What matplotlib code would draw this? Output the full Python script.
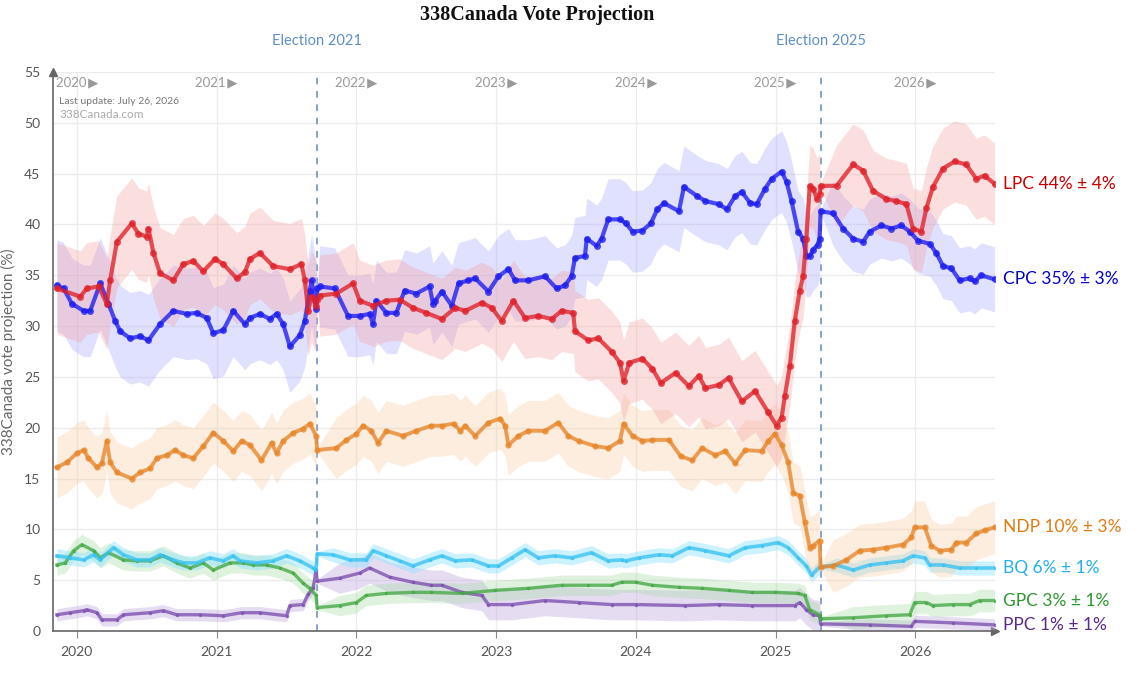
import matplotlib
matplotlib.use("Agg")
import matplotlib.pyplot as plt
import matplotlib.transforms as mtransforms
import numpy as np

# ---------------- data (x in decimal years, values in %) ----------------
ELECTIONS = [2021.719, 2025.322]
ELECTION_LABELS = ["Election 2021", "Election 2025"]
YEARS = [2020, 2021, 2022, 2023, 2024, 2025, 2026]

lpc_t = [2019.857, 2020.024, 2020.071, 2020.155, 2020.214, 2020.238, 2020.286, 2020.393, 2020.440,
         2020.500, 2020.512, 2020.548, 2020.595, 2020.690, 2020.762, 2020.833, 2020.905, 2020.988,
         2021.048, 2021.143, 2021.202, 2021.238, 2021.310, 2021.405, 2021.524, 2021.607, 2021.631,
         2021.655, 2021.679, 2021.712, 2021.719, 2021.738, 2021.857, 2021.976, 2022.024, 2022.119,
         2022.214, 2022.310, 2022.405, 2022.500, 2022.612, 2022.707, 2022.779, 2022.898, 2022.969,
         2023.040, 2023.124, 2023.207, 2023.302, 2023.398, 2023.469, 2023.552, 2023.564, 2023.660,
         2023.731, 2023.826, 2023.886, 2023.912, 2023.953, 2024.047, 2024.118, 2024.178, 2024.284,
         2024.379, 2024.450, 2024.498, 2024.592, 2024.664, 2024.758, 2024.853, 2024.948, 2025.007,
         2025.043, 2025.066, 2025.102, 2025.137, 2025.173, 2025.197, 2025.220, 2025.244, 2025.270,
         2025.295, 2025.315, 2025.322, 2025.436, 2025.555, 2025.626, 2025.698, 2025.793, 2025.864,
         2025.936, 2025.983, 2026.043, 2026.079, 2026.126, 2026.198, 2026.281, 2026.364, 2026.436,
         2026.495, 2026.567]
lpc_v = [33.7, 32.9, 33.7, 33.9, 32.2, 34.5, 38.3, 40.1, 39.1,
         38.8, 39.6, 37.2, 35.2, 34.5, 36.1, 36.4, 35.4, 36.6,
         36.1, 34.7, 35.3, 36.6, 37.2, 35.9, 35.6, 36.1, 34.5,
         31.5, 32.9, 32.0, 32.6, 33.0, 33.2, 34.2, 32.5, 32.0,
         32.5, 32.6, 31.8, 31.3, 30.7, 31.8, 31.5, 32.3, 31.8,
         30.5, 32.5, 30.8, 31.0, 30.7, 31.5, 31.3, 29.5, 28.6,
         28.8, 27.5, 26.4, 24.6, 26.4, 26.8, 25.8, 24.4, 25.4,
         24.1, 25.1, 23.9, 24.2, 24.9, 22.6, 23.6, 21.5, 20.2,
         21.0, 23.1, 26.1, 30.5, 33.5, 34.9, 38.6, 43.8, 43.5,
         42.5, 43.0, 43.8, 43.8, 45.9, 45.3, 43.3, 42.5, 42.3,
         42.0, 39.6, 39.3, 41.6, 43.7, 45.5, 46.2, 45.9, 44.5,
         44.8, 44.0]

cpc_t = [2019.857, 2019.905, 2019.964, 2020.048, 2020.095, 2020.167, 2020.226, 2020.274, 2020.310,
         2020.381, 2020.452, 2020.512, 2020.595, 2020.690, 2020.786, 2020.857, 2020.929, 2020.976,
         2021.048, 2021.119, 2021.202, 2021.238, 2021.310, 2021.381, 2021.429, 2021.476, 2021.524,
         2021.595, 2021.631, 2021.667, 2021.679, 2021.712, 2021.719, 2021.738, 2021.845, 2021.940,
         2022.024, 2022.095, 2022.119, 2022.143, 2022.214, 2022.286, 2022.345, 2022.429, 2022.524,
         2022.548, 2022.564, 2022.612, 2022.683, 2022.731, 2022.802, 2022.850, 2022.945, 2023.017,
         2023.088, 2023.136, 2023.231, 2023.350, 2023.433, 2023.493, 2023.540, 2023.564, 2023.636,
         2023.648, 2023.719, 2023.755, 2023.802, 2023.886, 2023.929, 2023.976, 2024.047, 2024.107,
         2024.154, 2024.201, 2024.308, 2024.344, 2024.438, 2024.498, 2024.592, 2024.652, 2024.711,
         2024.758, 2024.818, 2024.865, 2024.924, 2024.972, 2025.043, 2025.078, 2025.114, 2025.161,
         2025.197, 2025.220, 2025.245, 2025.268, 2025.300, 2025.315, 2025.322, 2025.412, 2025.483,
         2025.555, 2025.626, 2025.674, 2025.757, 2025.829, 2025.900, 2025.960, 2026.019, 2026.102,
         2026.150, 2026.198, 2026.257, 2026.317, 2026.388, 2026.424, 2026.471, 2026.567]
cpc_v = [34.0, 33.7, 32.2, 31.5, 31.5, 34.2, 32.2, 30.5, 29.5,
         28.8, 29.0, 28.6, 30.2, 31.5, 31.2, 31.3, 30.8, 29.3,
         29.6, 31.5, 30.2, 30.8, 31.2, 30.7, 31.2, 30.2, 28.0,
         29.1, 30.5, 33.5, 34.5, 31.7, 33.7, 33.9, 33.7, 31.0,
         31.0, 31.2, 30.2, 32.5, 31.3, 31.3, 33.5, 33.2, 33.9,
         32.2, 32.5, 33.4, 32.0, 34.2, 34.5, 34.7, 33.4, 34.9,
         35.6, 34.5, 34.5, 34.9, 33.7, 34.0, 34.9, 36.7, 36.9,
         38.6, 37.9, 38.6, 40.5, 40.5, 40.1, 39.3, 39.4, 40.1,
         41.5, 42.1, 41.3, 43.7, 42.8, 42.3, 42.0, 41.5, 42.8,
         43.2, 42.1, 42.0, 43.5, 44.5, 45.2, 44.2, 42.3, 39.3,
         38.6, 36.9, 36.9, 37.5, 38.0, 38.6, 41.3, 41.1, 39.6,
         38.6, 38.3, 39.3, 39.9, 39.6, 39.9, 39.3, 38.4, 38.1,
         37.2, 35.9, 35.7, 34.5, 34.7, 34.4, 35.0, 34.6]

ndp_t = [2019.857, 2019.929, 2020.000, 2020.048, 2020.083, 2020.143, 2020.179, 2020.214, 2020.238,
         2020.286, 2020.393, 2020.452, 2020.524, 2020.571, 2020.643, 2020.702, 2020.762, 2020.833,
         2020.905, 2020.976, 2021.048, 2021.119, 2021.179, 2021.238, 2021.321, 2021.393, 2021.429,
         2021.476, 2021.548, 2021.619, 2021.667, 2021.712, 2021.719, 2021.857, 2021.929, 2022.000,
         2022.048, 2022.107, 2022.155, 2022.214, 2022.333, 2022.429, 2022.536, 2022.612, 2022.695,
         2022.743, 2022.779, 2022.850, 2022.945, 2023.029, 2023.064, 2023.088, 2023.160, 2023.231,
         2023.350, 2023.445, 2023.517, 2023.590, 2023.707, 2023.802, 2023.886, 2023.912, 2023.976,
         2024.047, 2024.118, 2024.237, 2024.320, 2024.403, 2024.474, 2024.569, 2024.640, 2024.711,
         2024.782, 2024.900, 2024.948, 2024.995, 2025.043, 2025.090, 2025.126, 2025.173, 2025.209,
         2025.244, 2025.270, 2025.315, 2025.322, 2025.412, 2025.507, 2025.602, 2025.698, 2025.793,
         2025.912, 2025.971, 2025.995, 2026.067, 2026.114, 2026.174, 2026.257, 2026.293, 2026.364,
         2026.436, 2026.495, 2026.567]
ndp_v = [16.1, 16.6, 17.5, 17.8, 17.0, 16.1, 16.5, 18.7, 16.6,
         15.6, 15.0, 15.6, 16.0, 17.0, 17.3, 17.8, 17.3, 17.0,
         18.2, 19.5, 18.7, 17.7, 18.7, 18.3, 16.8, 18.5, 17.5,
         18.7, 19.5, 19.9, 20.4, 19.2, 17.8, 18.0, 18.8, 19.4,
         20.2, 19.7, 18.5, 19.7, 19.2, 19.7, 20.2, 20.2, 20.4,
         19.7, 20.2, 19.2, 20.5, 20.9, 20.2, 18.3, 19.2, 19.7,
         19.7, 20.5, 19.2, 18.7, 18.2, 18.0, 18.7, 20.4, 19.2,
         18.7, 18.8, 18.8, 17.2, 16.8, 18.0, 17.3, 17.7, 16.5,
         17.8, 17.7, 18.7, 19.4, 18.3, 16.6, 13.6, 13.3, 10.7,
         8.2, 8.4, 8.9, 6.3, 6.4, 7.0, 7.9, 8.0, 8.2,
         8.5, 9.2, 10.2, 10.2, 8.4, 7.9, 8.0, 8.7, 8.7,
         9.6, 9.9, 10.2]

bq_t = [2019.857, 2019.952, 2020.048, 2020.119, 2020.167, 2020.262, 2020.333, 2020.429, 2020.524,
        2020.595, 2020.690, 2020.762, 2020.857, 2020.952, 2021.048, 2021.119, 2021.167, 2021.286,
        2021.405, 2021.500, 2021.595, 2021.690, 2021.712, 2021.719, 2021.833, 2021.952, 2022.071,
        2022.119, 2022.214, 2022.310, 2022.405, 2022.524, 2022.612, 2022.707, 2022.826, 2022.945,
        2023.017, 2023.112, 2023.207, 2023.302, 2023.421, 2023.540, 2023.683, 2023.802, 2023.898,
        2023.929, 2024.024, 2024.166, 2024.261, 2024.379, 2024.498, 2024.664, 2024.782, 2024.900,
        2025.019, 2025.090, 2025.161, 2025.220, 2025.257, 2025.315, 2025.322, 2025.436, 2025.555,
        2025.674, 2025.793, 2025.912, 2025.983, 2026.067, 2026.102, 2026.198, 2026.317, 2026.436,
        2026.567]
bq_v = [7.4, 7.2, 7.0, 7.5, 7.0, 8.2, 7.5, 7.0, 7.0,
        7.5, 7.0, 6.7, 6.7, 7.2, 6.9, 7.4, 6.9, 6.7,
        6.9, 7.4, 6.9, 6.2, 6.0, 7.6, 7.5, 7.0, 7.0,
        7.9, 7.4, 6.9, 6.4, 7.0, 7.4, 6.9, 7.0, 6.4,
        6.4, 7.2, 8.0, 7.2, 7.4, 7.2, 7.7, 6.9, 7.0,
        6.9, 7.2, 7.5, 7.4, 8.2, 7.9, 7.4, 8.2, 8.4,
        8.7, 8.2, 7.2, 6.4, 5.5, 6.3, 6.3, 6.5, 6.0,
        6.5, 6.7, 6.9, 7.4, 7.2, 6.5, 6.5, 6.2, 6.2,
        6.2]

gpc_t = [2019.857, 2019.917, 2019.976, 2020.036, 2020.119, 2020.167, 2020.226, 2020.333, 2020.429,
         2020.524, 2020.619, 2020.714, 2020.810, 2020.905, 2020.976, 2021.095, 2021.190, 2021.262,
         2021.357, 2021.452, 2021.548, 2021.619, 2021.667, 2021.712, 2021.719, 2021.881, 2022.000,
         2022.071, 2022.214, 2022.405, 2022.536, 2022.755, 2022.993, 2023.231, 2023.469, 2023.660,
         2023.826, 2023.898, 2024.000, 2024.118, 2024.308, 2024.474, 2024.664, 2024.829, 2024.995,
         2025.161, 2025.209, 2025.244, 2025.315, 2025.322, 2025.555, 2025.793, 2025.960, 2025.995,
         2026.079, 2026.126, 2026.269, 2026.388, 2026.460, 2026.567]
gpc_v = [6.5, 6.7, 7.9, 8.5, 7.9, 7.2, 7.7, 7.0, 6.9,
         6.9, 7.4, 6.7, 6.2, 6.7, 6.0, 6.7, 6.7, 6.5,
         6.5, 6.2, 5.7, 4.7, 4.2, 3.5, 2.3, 2.5, 2.8,
         3.5, 3.7, 3.8, 3.8, 3.7, 4.0, 4.2, 4.5, 4.5,
         4.5, 4.8, 4.8, 4.5, 4.3, 4.2, 4.0, 3.8, 3.8,
         3.7, 3.5, 2.1, 1.6, 1.2, 1.3, 1.5, 1.6, 2.8,
         2.8, 2.5, 2.6, 2.6, 3.0, 3.0]

ppc_t = [2019.857, 2019.952, 2020.048, 2020.071, 2020.143, 2020.179, 2020.286, 2020.333, 2020.524,
         2020.619, 2020.714, 2020.881, 2021.048, 2021.179, 2021.310, 2021.500, 2021.524, 2021.619,
         2021.655, 2021.690, 2021.712, 2021.719, 2021.881, 2022.024, 2022.095, 2022.238, 2022.405,
         2022.536, 2022.612, 2022.755, 2022.898, 2022.945, 2023.112, 2023.350, 2023.590, 2023.826,
         2024.000, 2024.355, 2024.592, 2024.829, 2025.137, 2025.173, 2025.220, 2025.268, 2025.315,
         2025.322, 2025.674, 2025.971, 2025.995, 2026.269, 2026.567]
ppc_v = [1.6, 1.8, 2.0, 2.1, 1.8, 1.1, 1.1, 1.6, 1.8,
         2.0, 1.6, 1.6, 1.5, 1.8, 1.8, 1.5, 2.5, 2.6,
         3.6, 4.2, 6.0, 4.9, 5.2, 5.7, 6.2, 5.3, 4.8,
         4.5, 4.5, 3.8, 3.5, 2.6, 2.6, 3.0, 2.8, 2.6,
         2.6, 2.5, 2.6, 2.5, 2.5, 2.8, 2.1, 1.6, 1.5,
         0.7, 0.6, 0.45, 0.95, 0.8, 0.6]

parties = ["LPC", "CPC", "NDP", "BQ", "GPC", "PPC"]
# uncertainty half-width per era (before 2021 election, 2021-2025, after 2025 election)
band_halfwidth = {"LPC": [4.5, 4.0, 4.0], "CPC": [4.5, 4.0, 3.2], "NDP": [3.0, 3.0, 2.6],
                  "BQ": [0.7, 0.7, 0.7], "GPC": [1.0, 1.0, 1.1], "PPC": [0.6, 1.5, 0.6]}
label_margin = {"LPC": 4, "CPC": 3, "NDP": 3, "BQ": 1, "GPC": 1, "PPC": 1}

series = {"LPC": (lpc_t, lpc_v), "CPC": (cpc_t, cpc_v), "NDP": (ndp_t, ndp_v),
          "BQ": (bq_t, bq_v), "GPC": (gpc_t, gpc_v), "PPC": (ppc_t, ppc_v)}

# ---------------- style ----------------
line_color = {"LPC": "#e0202a", "CPC": "#1c1cf0", "NDP": "#e8862a", "BQ": "#38c2f2",
              "GPC": "#44a844", "PPC": "#7c4fae"}
band_color = {"LPC": "#f5a3a3", "CPC": "#a8a8ff", "NDP": "#f8c592", "BQ": "#8fe3ff",
              "GPC": "#a3dba3", "PPC": "#c2a8e0"}
band_alpha = {"LPC": 0.35, "CPC": 0.35, "NDP": 0.3, "BQ": 0.45, "GPC": 0.35, "PPC": 0.4}
text_color = {"LPC": "#c80000", "CPC": "#0000c8", "NDP": "#e07b12", "BQ": "#22b0ee",
              "GPC": "#2e962e", "PPC": "#5a2a8a"}
marker_size = {"LPC": 5.0, "CPC": 5.0, "NDP": 4.5, "BQ": 2.5, "GPC": 2.5, "PPC": 2.5}
line_width = {"LPC": 3.0, "CPC": 3.0, "NDP": 2.8, "BQ": 2.6, "GPC": 2.4, "PPC": 2.4}

plt.rcParams["font.family"] = ["Lato", "DejaVu Sans"]

fig = plt.figure(figsize=(11.48, 6.84), dpi=100)
ax = fig.add_axes([53 / 1148, 1 - 631 / 684, 942 / 1148, 559 / 684])

ax.set_xlim(2019.829, 2026.57)
ax.set_ylim(0, 55)

# grid
ax.set_yticks(np.arange(0, 56, 5))
ax.set_xticks(YEARS)
ax.grid(True, color="#ececec", linewidth=1.0)
ax.set_axisbelow(True)

for sp in ["top", "right"]:
    ax.spines[sp].set_visible(False)
ax.spines["left"].set_color("#666666")
ax.spines["bottom"].set_color("#666666")
ax.spines["left"].set_linewidth(1.2)
ax.spines["bottom"].set_linewidth(1.2)
ax.plot([0], [1], marker="^", color="#666666", markersize=6, transform=ax.transAxes, clip_on=False)
ax.plot([1], [0], marker=">", color="#666666", markersize=6, transform=ax.transAxes, clip_on=False)

ax.tick_params(axis="y", length=0, pad=9, labelsize=10, labelcolor="#555555")
ax.tick_params(axis="x", length=5, direction="out", color="#888888", pad=6, labelsize=10,
               labelcolor="#555555")
ax.set_xticklabels([str(y) for y in YEARS])
ax.set_ylabel("338Canada vote projection (%)", color="#666666", fontsize=11, labelpad=6)

# election lines
for e in ELECTIONS:
    ax.axvline(e, color="#6f93c4", linestyle=(0, (4, 4)), linewidth=1.2, zorder=1)
trans_top = mtransforms.blended_transform_factory(ax.transData, ax.transAxes)
for e, lab in zip(ELECTIONS, ELECTION_LABELS):
    ax.text(e, 1 + 31 / 559, lab, transform=trans_top, ha="center", va="center",
            color="#5e8fc6", fontsize=10.5)

# year labels at top inside plot
for y in YEARS:
    ax.text(y, 54.6, f"{y}\u2009\u25B6", ha="center", va="top", color="#999999", fontsize=9.5,
            family=["Lato", "DejaVu Sans"])

ax.text(6 / 942, 1 - 29 / 559, "Last update: July 26, 2026", transform=ax.transAxes,
        fontsize=7.5, color="#777777", va="center", ha="left")
ax.text(6 / 942, 1 - 42 / 559, "338Canada.com", transform=ax.transAxes,
        fontsize=8.5, color="#aaaaaa", va="center", ha="left")

def era(t):
    if t < ELECTIONS[0]:
        return 0
    if t < ELECTIONS[1]:
        return 1
    return 2

# bands
for p in ["PPC", "GPC", "BQ", "NDP", "CPC", "LPC"]:
    t, v = series[p]
    t = np.array(t)
    v = np.array(v)
    hw = np.array([0.2 if tt in ELECTIONS else band_halfwidth[p][era(tt)] for tt in t])
    ax.fill_between(t, np.clip(v - hw, 0, None), v + hw, color=band_color[p],
                    alpha=band_alpha[p], linewidth=0, zorder=2)

# lines
for p in ["PPC", "GPC", "BQ", "NDP", "CPC", "LPC"]:
    t, v = series[p]
    ax.plot(t, v, color=line_color[p], linewidth=line_width[p], alpha=0.78, zorder=4,
            marker="o", markersize=marker_size[p], markeredgewidth=0, solid_joinstyle="round")

# right-side labels
trans_right = mtransforms.blended_transform_factory(ax.transAxes, ax.transData)
for p in parties:
    val = series[p][1][-1]
    ax.text(1 + 8 / 942, val, f"{p} {round(val):d}% \u00B1 {label_margin[p]}%",
            transform=trans_right, color=text_color[p], fontsize=12.5, va="center", ha="left")

fig.text(537 / 1148, 1 - 15 / 684, "338Canada Vote Projection", ha="center", va="center",
         fontsize=14.5, fontweight="bold", family=["Liberation Serif", "DejaVu Serif"], color="#111111")

fig.savefig("out.png", dpi=100)
